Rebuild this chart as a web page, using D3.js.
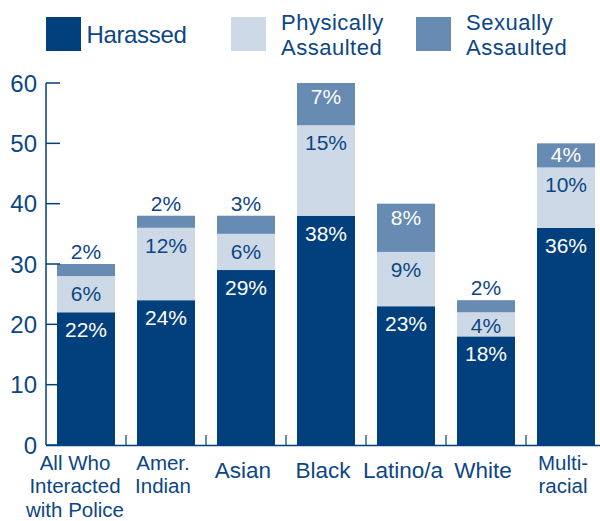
<!DOCTYPE html>
<html><head><meta charset="utf-8">
<script src="https://cdn.jsdelivr.net/npm/d3@7"></script>
<style>body{margin:0;background:#fff}svg{display:block;font-family:"Liberation Sans",Arial,Helvetica,sans-serif}</style>
</head><body><svg id="c" width="600" height="521"></svg>
<script>
const categories = ["All Who|Interacted|with Police","Amer.|Indian","Asian","Black","Latino/a","White","Multi-|racial"];
const harassed = [22,24,29,38,23,18,36];
const physically = [6,12,6,15,9,4,10];
const sexually = [2,2,3,7,8,2,4];
const seriesNames = ["Harassed","Physically|Assaulted","Sexually|Assaulted"];
const yTicks = [0,10,20,30,40,50,60];

const colors = ["#023f7d","#cdd9e6","#678bb2"];
const textDark = "#0c4684";
const svg = d3.select("#c");

const x = d3.scaleBand().domain(categories).range([46,606]).paddingInner(0.275).paddingOuter(0.1375);
const y = d3.scaleLinear().domain([0,60]).range([445,83]);

const rows = categories.map((c,i)=>({cat:c,h:harassed[i],p:physically[i],s:sexually[i]}));
const stack = d3.stack().keys(["h","p","s"])(rows);

// bars
stack.forEach((layer,k)=>{
  svg.append("g").selectAll("rect").data(layer).join("rect")
    .attr("x",d=>x(d.data.cat)).attr("width",x.bandwidth())
    .attr("y",d=>y(d[1])).attr("height",d=>y(d[0])-y(d[1]))
    .attr("fill",colors[k]);
});

// labels
stack.forEach((layer,k)=>{
  svg.append("g").selectAll("text").data(layer).join("text")
    .attr("x",d=>x(d.data.cat)+x.bandwidth()/2)
    .attr("y",d=>{
      const top=y(d[1]), h=y(d[0])-y(d[1]);
      const v=d[1]-d[0];
      if(k===2 && v<4) return top-5;
      if(k===2) return top+Math.min(21,h/2+7);
      return top+Math.min(25,h/2+9);
    })
    .attr("text-anchor","middle").attr("font-size","21px")
    .attr("fill",d=>{
      const v=d[1]-d[0];
      if(k===0) return "#fff";
      if(k===1) return textDark;
      return v<4?textDark:"#fff";
    })
    .text(d=>(d[1]-d[0])+"%");
});

// y axis
const ya = svg.append("g");
ya.append("line").attr("x1",46).attr("x2",46).attr("y1",y(60)).attr("y2",y(0)).attr("stroke",colors[0]).attr("stroke-width",1.5);
ya.selectAll("line.t").data(yTicks).join("line").attr("class","t")
  .attr("x1",46).attr("x2",60).attr("y1",d=>y(d)).attr("y2",d=>y(d)).attr("stroke",colors[0]).attr("stroke-width",1.5);
ya.selectAll("text").data(yTicks).join("text")
  .attr("x",37).attr("y",d=>y(d)+8.5).attr("text-anchor","end")
  .attr("font-size","24px").attr("fill",textDark).text(d=>d);

// x axis
const xa = svg.append("g");
xa.append("line").attr("x1",46).attr("x2",600).attr("y1",445.5).attr("y2",445.5).attr("stroke",colors[0]).attr("stroke-width",1.5);
xa.selectAll("line.t").data(categories.slice(1)).join("line").attr("class","t")
  .attr("x1",d=>x(d)-x.step()*x.paddingInner()/2).attr("x2",d=>x(d)-x.step()*x.paddingInner()/2)
  .attr("y1",435).attr("y2",445).attr("stroke",colors[0]).attr("stroke-width",1.2);
categories.forEach((c,i)=>{
  const lines=c.split("|");
  const multi = lines.length>1;
  const t=xa.append("text").attr("text-anchor","middle").attr("font-size",multi?"20.5px":"22.5px").attr("fill",textDark);
  let cx = x(c)+x.bandwidth()/2-3;
  lines.forEach((ln,j)=>{
    t.append("tspan").attr("y",(multi?470:478)+j*23.3).text(ln);
  });
  const w = d3.max(t.selectAll("tspan").nodes(),n=>n.getComputedTextLength());
  if(i===0) cx = 26 + w/2;
  t.selectAll("tspan").attr("x",cx);
});

// legend
const lx = [46,231,416];
seriesNames.forEach((n,i)=>{
  svg.append("rect").attr("x",lx[i]).attr("y",17).attr("width",35).attr("height",34).attr("fill",colors[i]);
  const lines=n.split("|");
  const multi = lines.length>1;
  const t=svg.append("text").attr("font-size",multi?"22px":"24px").attr("fill",textDark)
    .attr("letter-spacing",multi?"0.5px":"-0.35px");
  lines.forEach((ln,j)=>{
    t.append("tspan").attr("x",lx[i]+(multi?50:40.5)).attr("y",(multi?29.5:43.3)+j*25.3).text(ln);
  });
});
</script></body></html>
